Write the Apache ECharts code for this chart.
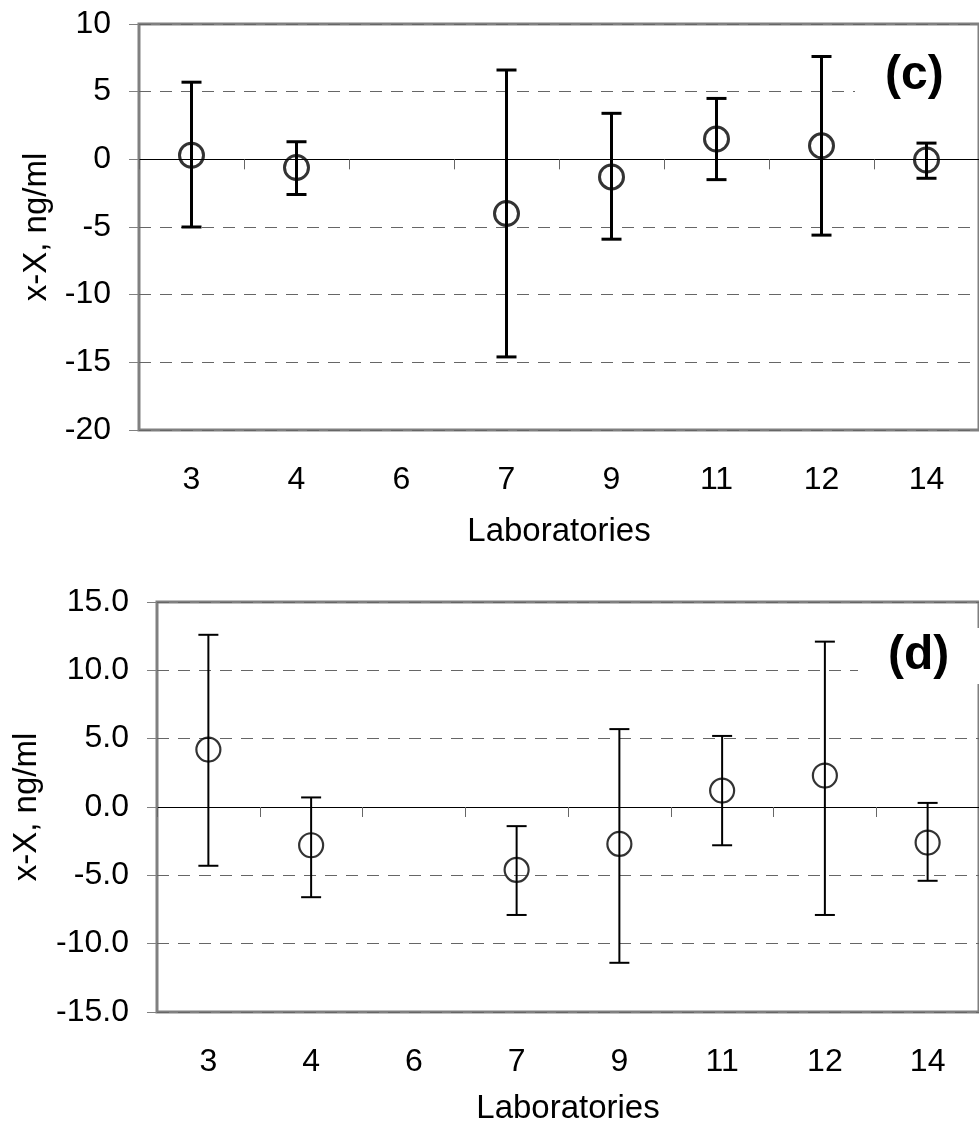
<!DOCTYPE html>
<html>
<head>
<meta charset="utf-8">
<title>x-X by laboratory</title>
<script src="https://cdn.jsdelivr.net/npm/echarts@6/dist/echarts.min.js"></script>
<style>
    html, body { margin: 0; padding: 0; background: #fff; }
    #chart { width: 979px; height: 1126px; }
</style>
</head>
<body>
<div id="chart"></div>
<script>
// laboratories on the x axis (lab 6 has no result)
const labs = ['3', '4', '6', '7', '9', '11', '12', '14'];

// panel (c)
const meanC = [0.3, -0.6, null, -4.0, -1.3, 1.5, 1.0, -0.05];
const lowC = [-5.0, -2.6, null, -14.6, -5.9, -1.5, -5.6, -1.4];
const highC = [5.7, 1.3, null, 6.6, 3.4, 4.5, 7.6, 1.2];

// panel (d)
const meanD = [4.2, -2.8, null, -4.6, -2.7, 1.2, 2.3, -2.6];
const lowD = [-4.3, -6.6, null, -7.9, -11.4, -2.8, -7.9, -5.4];
const highD = [12.6, 0.7, null, -1.4, 5.7, 5.2, 12.1, 0.3];

const yTicksC = { min: -20, max: 10, step: 5 };
const yTicksD = { min: -15, max: 15, step: 5 };

const FONT = 'Liberation Sans, Arial, sans-serif';

const chart = echarts.init(document.getElementById('chart'));

// error bar: vertical line plus two caps
function errorBar(lw) {
    return function (params, api) {
        const idx = api.value(0);
        const top = api.coord([idx, api.value(2)]);
        const bot = api.coord([idx, api.value(1)]);
        const half = 10;
        const style = { stroke: '#000', lineWidth: lw };
        return {
            type: 'group',
            children: [
                { type: 'line', shape: { x1: top[0], y1: top[1], x2: bot[0], y2: bot[1] }, style },
                { type: 'line', shape: { x1: top[0] - half, y1: top[1], x2: top[0] + half, y2: top[1] }, style },
                { type: 'line', shape: { x1: bot[0] - half, y1: bot[1], x2: bot[0] + half, y2: bot[1] }, style }
            ]
        };
    };
}

function barData(low, high) {
    const out = [];
    labs.forEach((l, i) => {
        if (low[i] != null) out.push([i, low[i], high[i]]);
    });
    return out;
}

function pointData(mean) {
    const out = [];
    labs.forEach((l, i) => {
        if (mean[i] != null) out.push([i, mean[i]]);
    });
    return out;
}

function labelAxis(g, margin, nameGap) {
    return {
        gridIndex: g,
        type: 'category',
        data: labs,
        position: 'bottom',
        axisLine: { show: false, onZero: false },
        axisTick: { show: false },
        axisLabel: { color: '#000', fontSize: 32, fontFamily: FONT, margin: margin },
        name: 'Laboratories',
        nameLocation: 'middle',
        nameGap: nameGap,
        nameTextStyle: { color: '#000', fontSize: 33, fontFamily: FONT }
    };
}

function zeroAxis(g) {
    return {
        gridIndex: g,
        type: 'category',
        data: labs,
        position: 'bottom',
        axisLine: { show: true, onZero: true, lineStyle: { color: '#000', width: 1 } },
        axisTick: { show: true, length: 10, lineStyle: { color: '#666', width: 1 } },
        axisLabel: { show: false },
        splitLine: { show: false }
    };
}

function valueAxis(g, t, fmt, nameGap) {
    return {
        gridIndex: g,
        type: 'value',
        min: t.min,
        max: t.max,
        interval: t.step,
        axisLine: { show: false },
        axisTick: { show: true, length: 10, lineStyle: { color: '#808080', width: 1 } },
        axisLabel: { color: '#000', fontSize: 32, fontFamily: FONT, margin: 28, formatter: fmt },
        splitLine: { show: true, lineStyle: { color: '#666', width: 1, type: [12, 9] } },
        name: 'x-X, ng/ml',
        nameLocation: 'middle',
        nameGap: nameGap,
        nameTextStyle: { color: '#000', fontSize: 33, fontFamily: FONT }
    };
}

// panel letter on a white box that hides the gridline behind it
function panelLabel(text, left, top) {
    return {
        type: 'text', left: left, top: top, z: 10,
        style: {
            text: text, fontSize: 48, fontWeight: 'bold', fontFamily: FONT, fill: '#000',
            backgroundColor: '#fff', padding: [4, 30, 4, 30]
        }
    };
}

const option = {
    animation: false,
    backgroundColor: '#fff',
    grid: [
        { left: 139, top: 24, width: 844, height: 406, show: true, borderColor: '#808080', borderWidth: 3, backgroundColor: 'transparent' },
        { left: 157, top: 602, width: 838, height: 411, show: true, borderColor: '#808080', borderWidth: 3, backgroundColor: 'transparent' }
    ],
    xAxis: [
        labelAxis(0, 34, 85),
        zeroAxis(0),
        labelAxis(1, 34, 80),
        zeroAxis(1)
    ],
    yAxis: [
        valueAxis(0, yTicksC, v => String(v), 84),
        valueAxis(1, yTicksD, v => v.toFixed(1), 114)
    ],
    graphic: [
        panelLabel('(c)', 855, 48),
        panelLabel('(d)', 858, 628)
    ],
    series: [
        {
            type: 'custom', xAxisIndex: 0, yAxisIndex: 0,
            renderItem: errorBar(3), data: barData(lowC, highC), z: 3
        },
        {
            type: 'scatter', xAxisIndex: 0, yAxisIndex: 0,
            data: pointData(meanC), symbol: 'circle', symbolSize: 24,
            itemStyle: { color: 'rgba(0,0,0,0)', borderColor: '#000', borderWidth: 3 }, z: 4
        },
        {
            type: 'custom', xAxisIndex: 2, yAxisIndex: 1,
            renderItem: errorBar(2), data: barData(lowD, highD), z: 3
        },
        {
            type: 'scatter', xAxisIndex: 2, yAxisIndex: 1,
            data: pointData(meanD), symbol: 'circle', symbolSize: 24,
            itemStyle: { color: 'rgba(0,0,0,0)', borderColor: '#000', borderWidth: 2.2 }, z: 4
        }
    ]
};

chart.setOption(option);
</script>
</body>
</html>
